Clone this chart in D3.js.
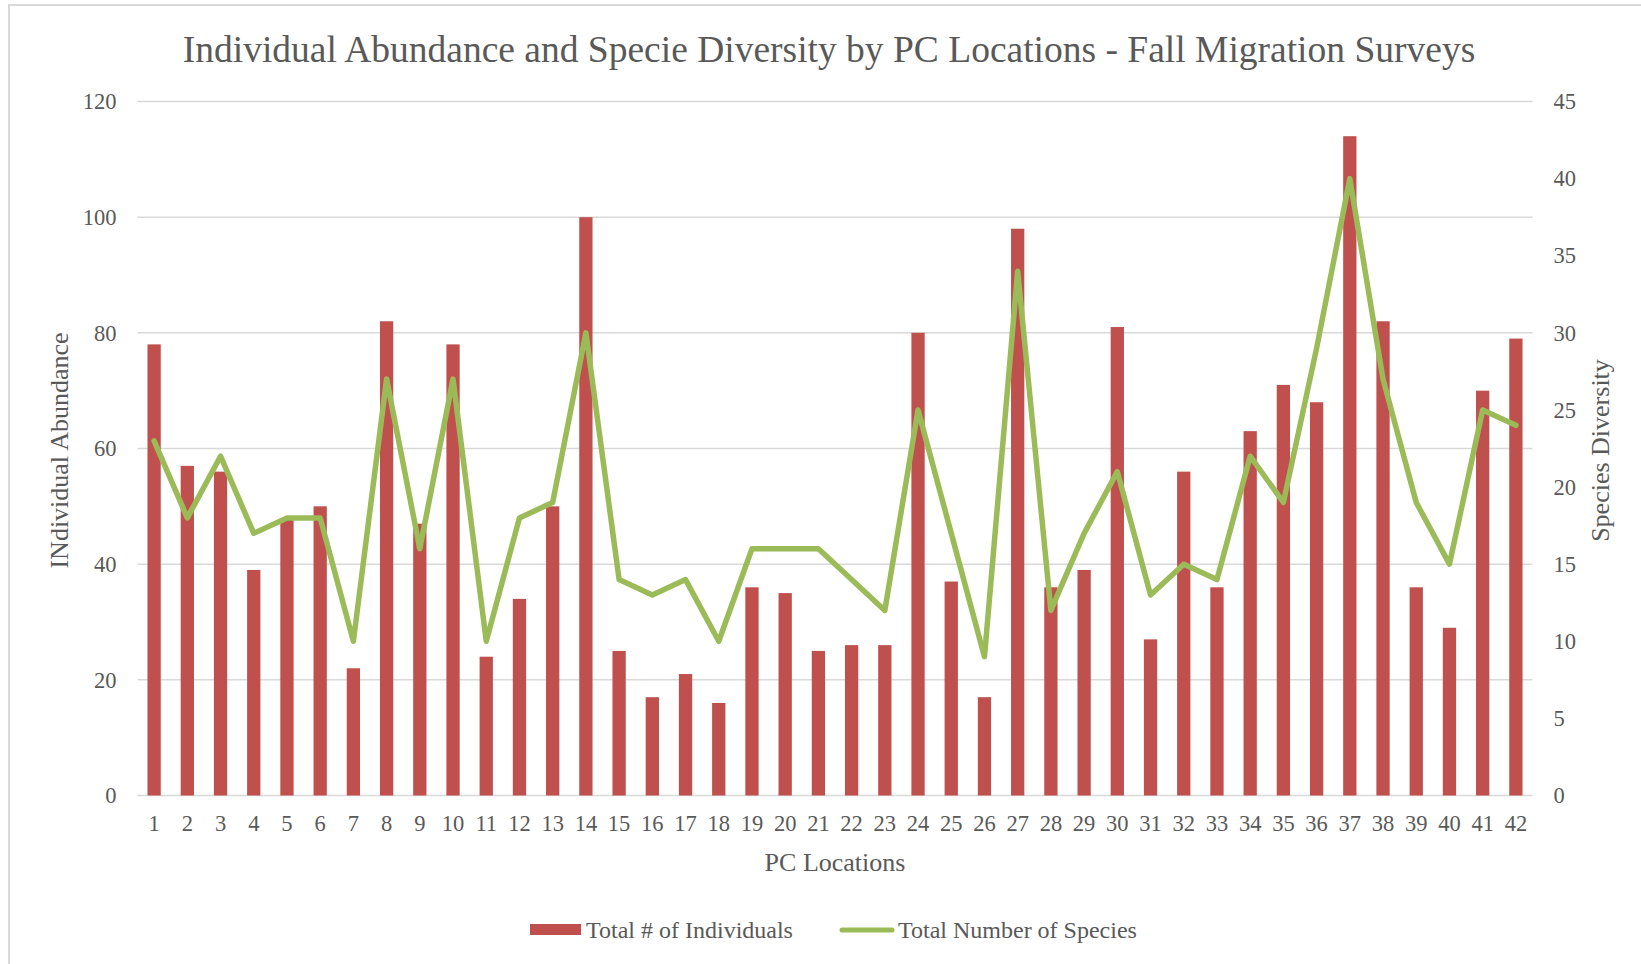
<!DOCTYPE html>
<html>
<head>
<meta charset="utf-8">
<script src="https://cdn.jsdelivr.net/npm/d3@7"></script>
<style>
  html, body { margin: 0; padding: 0; background: #fff; }
  svg { display: block; }
  text { font-family: "Liberation Serif", "Times New Roman", serif; fill: #595959; }
</style>
</head>
<body>
<svg id="chart" width="1641" height="964"></svg>
<script>
// PC survey locations 1..42
const locations = d3.range(1, 43).map(String);

// Total # of individuals counted at each location (left axis)
const individuals = [78, 57, 56, 39, 48, 50, 22, 82, 47, 78, 24, 34, 50, 100, 25, 17, 21, 16, 36, 35, 25,
                     26, 26, 80, 37, 17, 98, 36, 39, 81, 27, 56, 36, 63, 71, 68, 114, 82, 36, 29, 70, 79];

// Total number of species recorded at each location (right axis)
const species = [23, 18, 22, 17, 18, 18, 10, 27, 16, 27, 10, 18, 19, 30, 14, 13, 14, 10, 16, 16, 16,
                 14, 12, 25, 17, 9, 34, 12, 17, 21, 13, 15, 14, 22, 19, 29, 40, 27, 19, 15, 25, 24];

const leftTicks = [0, 20, 40, 60, 80, 100, 120];
const rightTicks = [0, 5, 10, 15, 20, 25, 30, 35, 40, 45];

const titleText = "Individual Abundance and Specie Diversity by PC Locations - Fall Migration Surveys";
const leftTitle = "INdividual Abundance";
const rightTitle = "Species Diversity";
const xTitle = "PC Locations";
const seriesNames = ["Total # of Individuals", "Total Number of Species"];

const barColor = "#C0504D";
const lineColor = "#9BBB59";
const gridColor = "#D9D9D9";

const svg = d3.select("#chart");

// chart area frame
svg.append("rect")
  .attr("x", 9).attr("y", 5)
  .attr("width", 1700).attr("height", 1000)
  .attr("fill", "none")
  .attr("stroke", "#D9D9D9")
  .attr("stroke-width", 2);

const plot = { left: 137.5, right: 1532.5, top: 101.5, bottom: 795.5 };

const x = d3.scaleBand()
  .domain(locations)
  .range([plot.left, plot.right])
  .paddingInner(0.6)
  .paddingOuter(0.3);

const yL = d3.scaleLinear().domain([0, 120]).range([plot.bottom, plot.top]);
const yR = d3.scaleLinear().domain([0, 45]).range([plot.bottom, plot.top]);

// horizontal gridlines from the left axis
svg.append("g")
  .selectAll("line")
  .data(leftTicks)
  .join("line")
  .attr("x1", plot.left).attr("x2", plot.right)
  .attr("y1", d => yL(d)).attr("y2", d => yL(d))
  .attr("stroke", gridColor)
  .attr("stroke-width", 1.5);

const tickFont = sel => sel.selectAll("text")
  .style("font-size", "22.5px")
  .style("font-family", "'Liberation Serif', serif")
  .attr("fill", "#595959");

// left axis labels
const leftAxis = svg.append("g")
  .attr("transform", `translate(${plot.left},0)`)
  .call(d3.axisLeft(yL).tickValues(leftTicks).tickSize(0).tickPadding(21));
leftAxis.select(".domain").remove();
tickFont(leftAxis);

// right axis labels
const rightAxis = svg.append("g")
  .attr("transform", `translate(${plot.right},0)`)
  .call(d3.axisRight(yR).tickValues(rightTicks).tickSize(0).tickPadding(21));
rightAxis.select(".domain").remove();
tickFont(rightAxis);

// bottom axis labels
const bottomAxis = svg.append("g")
  .attr("transform", `translate(0,${plot.bottom})`)
  .call(d3.axisBottom(x).tickSize(0).tickPadding(20));
bottomAxis.select(".domain").remove();
tickFont(bottomAxis);

// bars: individuals
svg.append("g")
  .selectAll("rect")
  .data(individuals)
  .join("rect")
  .attr("x", (d, i) => x(locations[i]))
  .attr("width", x.bandwidth())
  .attr("y", d => yL(d))
  .attr("height", d => yL(0) - yL(d))
  .attr("fill", barColor);

// line: species
const line = d3.line()
  .x((d, i) => x(locations[i]) + x.bandwidth() / 2)
  .y(d => yR(d));

svg.append("path")
  .datum(species)
  .attr("d", line)
  .attr("fill", "none")
  .attr("stroke", lineColor)
  .attr("stroke-width", 5.5)
  .attr("stroke-linejoin", "round")
  .attr("stroke-linecap", "round");

// title
svg.append("text")
  .attr("x", 829).attr("y", 62)
  .attr("text-anchor", "middle")
  .style("font-size", "37.5px")
  .text(titleText);

// axis titles
svg.append("text")
  .attr("transform", `translate(68,${(plot.top + plot.bottom) / 2 + 2}) rotate(-90)`)
  .attr("text-anchor", "middle")
  .style("font-size", "26px")
  .text(leftTitle);

svg.append("text")
  .attr("transform", `translate(1609,${(plot.top + plot.bottom) / 2 + 2}) rotate(-90)`)
  .attr("text-anchor", "middle")
  .style("font-size", "26px")
  .text(rightTitle);

svg.append("text")
  .attr("x", (plot.left + plot.right) / 2).attr("y", 871)
  .attr("text-anchor", "middle")
  .style("font-size", "26px")
  .text(xTitle);

// legend
const legend = svg.append("g");
legend.append("rect")
  .attr("x", 530).attr("y", 924)
  .attr("width", 51).attr("height", 11)
  .attr("fill", barColor);
legend.append("text")
  .attr("x", 586).attr("y", 938)
  .style("font-size", "24px")
  .text(seriesNames[0]);
legend.append("line")
  .attr("x1", 842).attr("x2", 892)
  .attr("y1", 930).attr("y2", 930)
  .attr("stroke", lineColor)
  .attr("stroke-width", 5)
  .attr("stroke-linecap", "round");
legend.append("text")
  .attr("x", 898).attr("y", 938)
  .style("font-size", "24px")
  .text(seriesNames[1]);
</script>
</body>
</html>
